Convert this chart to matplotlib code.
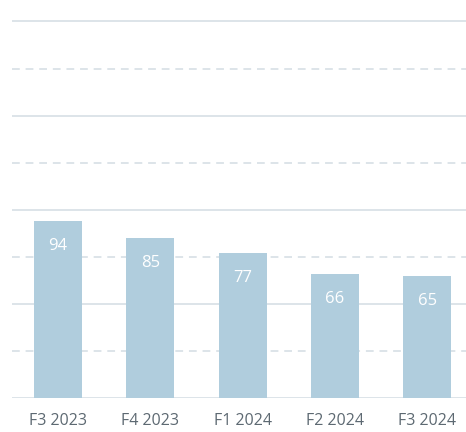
import matplotlib.pyplot as plt

categories = ['F3 2023', 'F4 2023', 'F1 2024', 'F2 2024', 'F3 2024']
values = [94, 85, 77, 66, 65]

plt.rcParams['font.family'] = ['Open Sans', 'DejaVu Sans']

fig = plt.figure(figsize=(4.66, 4.32), dpi=100)
ax = fig.add_axes([12 / 466, 34 / 432, 454 / 466, 398 / 432])

# gridlines: solid every 50, dashed in between
for y in range(0, 201, 25):
    if y % 50 == 0:
        ax.axhline(y, color='#dde4e9', lw=1.4, zorder=0)
    else:
        ax.axhline(y, color='#dde4e9', lw=1.4, ls=(0, (4, 3)), zorder=0)

x = range(len(categories))
ax.bar(x, values, width=0.52, color='#b0cddd', zorder=2)
for i, v in enumerate(values):
    ax.text(i, v - 13.3, str(v), ha='center', va='center', color='white', fontsize=12, zorder=3)

ax.set_xlim(-0.5, 4.42)
ax.set_ylim(0, 211.4)
ax.set_xticks(list(x))
ax.set_xticklabels(categories, fontsize=11.5, color='#5d6972')
ax.tick_params(axis='x', length=0, pad=11)
ax.set_yticks([])
for s in ax.spines.values():
    s.set_visible(False)

fig.savefig('out.png', dpi=100)
